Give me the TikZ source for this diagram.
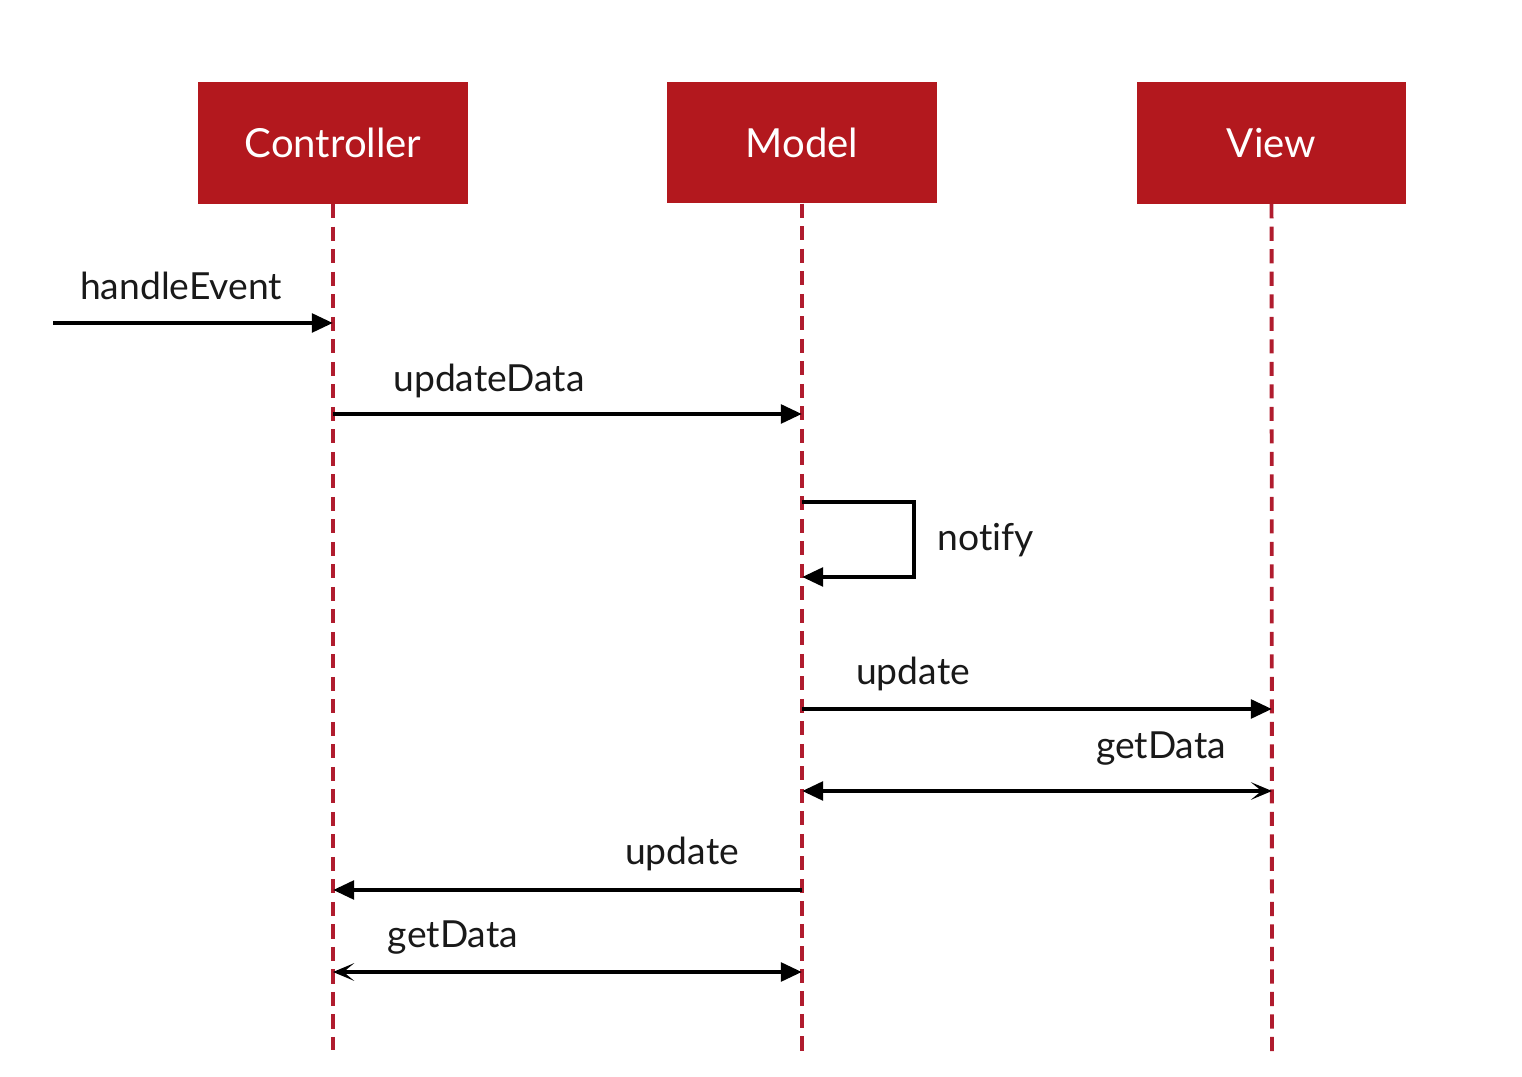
\documentclass[tikz,border=0pt]{standalone}
\usepackage{fontspec}
\setmainfont{Lato}[Ligatures=CommonOff]
\usetikzlibrary{arrows.meta}
\definecolor{boxred}{HTML}{B3181E}
\definecolor{lifered}{HTML}{B01C2E}
\begin{document}
\begin{tikzpicture}[x=0.01cm,y=-0.01cm,
        actor/.style={fill=boxred,text=white,minimum width=2.69cm,minimum height=1.21cm,
            inner sep=0pt,font=\fontsize{11.4}{13}\selectfont},
        life/.style={lifered,line width=1.1pt,dash pattern=on 4pt off 2.4pt},
        msg/.style={line width=1.3pt,-{Triangle[length=6pt,width=5.2pt]}},
        both/.style={line width=1.3pt},
        label/.style={font=\fontsize{10.6}{12}\selectfont,text=black!90}]
    \useasboundingbox (0,0) rectangle (1522,1077);

    \node[actor] (ctrl) at (333,143) {Controller};
    \node[actor] (model) at (802,142.5) {Model};
    \node[actor] (view) at (1271.5,143) {View};

    \coordinate (ctrl end) at (333,1050);
    \coordinate (model end) at (802,1057);
    \coordinate (view end) at (1272,1057);

    \draw[life] (ctrl) -- (ctrl end);
    \draw[life] (model) -- (model end);
    \draw[life] (view) -- (view end);

    % messages
    \coordinate (in) at (53,323);
    \coordinate (c1) at (333,323);
    \coordinate (c2) at (333,414);
    \coordinate (m2) at (802,414);
    \coordinate (m3) at (802,502);
    \coordinate (n1) at (914,502);
    \coordinate (n2) at (914,577);
    \coordinate (m4) at (802,577);
    \coordinate (m5) at (802,709);
    \coordinate (v5) at (1272,709);
    \coordinate (m6) at (802,791);
    \coordinate (v6) at (1272,791);
    \coordinate (m7) at (802,890);
    \coordinate (c7) at (333,890);
    \coordinate (c8) at (333,972);
    \coordinate (m8) at (802,972);

    \draw[msg] (in) -- (c1);
    \draw[msg] (c2) -- (m2);
    \draw[msg] (m3) -- (n1) -- (n2) -- (m4);
    \draw[msg] (m5) -- (v5);
    \draw[both,{Triangle[length=6pt,width=5.2pt]}-{Stealth[length=6pt,width=5pt,inset=3pt]}] (m6) -- (v6);
    \draw[msg] (m7) -- (c7);
    \draw[both,{Stealth[length=6pt,width=5pt,inset=3pt]}-{Triangle[length=6pt,width=5.2pt]}] (c8) -- (m8);

    \node[label] (l1) at (181,286) {handleEvent};
    \node[label] (l2) at (489,381) {updateData};
    \node[label] (l3) at (986,540) {notify};
    \node[label] (l4) at (913,674) {update};
    \node[label] (l5) at (1161,749) {getData};
    \node[label] (l6) at (682,854) {update};
    \node[label] (l7) at (453,938) {getData};
\end{tikzpicture}
\end{document}
